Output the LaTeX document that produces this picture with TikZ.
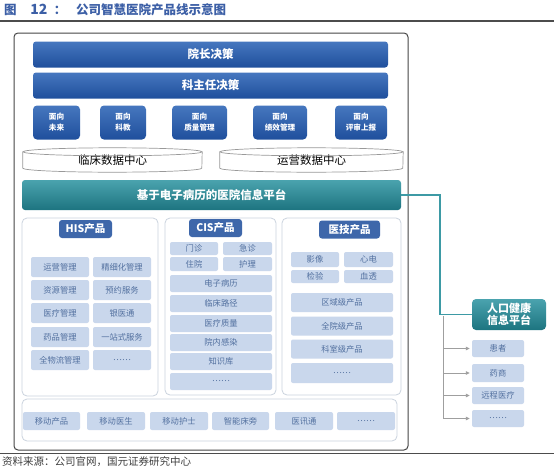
\documentclass[tikz,border=0pt]{standalone}
\usepackage{fontspec}
\setmainfont{Noto Sans CJK SC}
\usetikzlibrary{arrows.meta}
\definecolor{tblue}{HTML}{3C5FA6}
\definecolor{bartop}{HTML}{4677BF}
\definecolor{barbot}{HTML}{1F4F9C}
\definecolor{tealtop}{HTML}{4AA3AE}
\definecolor{tealbot}{HTML}{1D7480}
\definecolor{tealline}{HTML}{3D9AA5}
\definecolor{itemfill}{HTML}{C9D7EC}
\definecolor{itemtext}{HTML}{52709F}
\definecolor{panelline}{HTML}{CBD3DE}
\definecolor{headfill}{HTML}{3E67AA}
\tikzset{
 bar/.style={rounded corners=3pt,top color=bartop,bottom color=barbot,draw=none,
   text=white,font=\fontsize{11.5}{13}\selectfont\bfseries,inner sep=0pt},
 facebox/.style={bar,rounded corners=4pt,align=center,minimum width=50pt,minimum height=34pt,
   font=\fontsize{7.6}{11}\selectfont\bfseries},
 disk/.style={fill=white,inner sep=0pt,minimum height=24pt,font=\fontsize{11.5}{13}\selectfont},
 diskline/.style={draw=gray!80,line width=0.7pt},
 platform/.style={rounded corners=3pt,top color=tealtop,bottom color=tealbot,draw=none,
   text=white,font=\fontsize{11.5}{13}\selectfont\bfseries,inner sep=0pt},
 panel/.style={draw=panelline,line width=0.8pt,rounded corners=5pt,fill=white,inner sep=0pt},
 head/.style={fill=headfill,rounded corners=3pt,text=white,inner sep=0pt,
   minimum height=18pt,font=\fontsize{10.5}{12}\selectfont\bfseries},
 item/.style={fill=itemfill,rounded corners=2pt,text=itemtext,inner sep=0pt,
   font=\fontsize{8.3}{9}\selectfont},
 link/.style={draw=tealline,line width=1.1pt},
 graylink/.style={-{Triangle[length=4pt,width=3.5pt]},draw=gray!75,line width=0.9pt}
}
\begin{document}
\begin{tikzpicture}[x=1pt,y=-1pt]
 \useasboundingbox[fill=white] (0,0) rectangle (554,471);
 % heading and rules
 \node[anchor=west,text=tblue,font=\fontsize{12.5}{14}\selectfont\bfseries,inner sep=0pt]
   (title) at (4,10) {图\hspace{1.1em}{\fontsize{14}{14}\selectfont 12}\hspace{0.5em}：\hspace{0.8em}公司智慧医院产品线示意图};
 \draw[gray!60!black,line width=1.6pt] (0,21) -- (554,21);
 \draw[gray!60!black,line width=0.8pt] (0,453) -- (554,453);
 \node[anchor=west,text=black!75,font=\fontsize{10.5}{12}\selectfont,inner sep=0pt]
   (source) at (2,462) {资料来源：公司官网，国元证券研究中心};
 % outer frame
 \node[draw=gray!55!black,line width=1pt,rounded corners=4pt,minimum width=394pt,
   minimum height=417pt,inner sep=0pt] (frame) at (211,241.5) {};
 % decision bars
 \node[bar,minimum width=355pt,minimum height=26pt] (dean) at (210.5,54.5) {院长决策};
 \node[bar,minimum width=355pt,minimum height=26pt] (director) at (210.5,85.5) {科主任决策};
 \node[facebox,minimum width=47pt] (future) at (56.5,122.5) {面向\\未来};
 \node[facebox,minimum width=46pt] (research) at (123,122.5) {面向\\科教};
 \node[facebox,minimum width=55pt] (quality) at (199.5,122.5) {面向\\质量管理};
 \node[facebox,minimum width=54pt] (perform) at (280,122.5) {面向\\绩效管理};
 \node[facebox,minimum width=52pt] (report) at (361,122.5) {面向\\评审上报};
 % data centres
 \node[disk,minimum width=179pt] (clinical) at (112.5,160) {临床数据中心};
 \node[disk,minimum width=183pt] (operation) at (311.5,160) {运营数据中心};
 \foreach \d/\r in {clinical/89.5pt,operation/91.5pt}{
   \draw[diskline] ([yshift=-4pt]\d.north west) -- ([yshift=4pt]\d.south west)
     arc[start angle=180,end angle=360,x radius=\r,y radius=4pt] -- ([yshift=-4pt]\d.north east);
   \draw[diskline] ([yshift=-4pt]\d.north) ellipse[x radius=\r,y radius=4pt];
 }
 % information platform
 \node[platform,minimum width=379pt,minimum height=30pt] (platform) at (211.5,195) {基于电子病历的医院信息平台};
 % product panels
 \node[panel,minimum width=136pt,minimum height=178pt] (hispanel) at (90,307) {};
 \node[panel,minimum width=111pt,minimum height=177pt] (cispanel) at (220.5,306.5) {};
 \node[panel,minimum width=119pt,minimum height=177pt] (techpanel) at (341.5,306.5) {};
 \node[panel,minimum width=375pt,minimum height=42pt] (mobilepanel) at (209.5,420) {};
 \node[head,minimum width=53pt] (hishead) at (85.5,229) {HIS产品};
 \node[head,minimum width=53pt] (cishead) at (215.5,228) {CIS产品};
 \node[head,minimum width=61pt] (techhead) at (349.5,229.5) {医技产品};
 % HIS items
 \node[item,minimum width=58pt,minimum height=20pt] (his1) at (60,267) {运营管理};
 \node[item,minimum width=58pt,minimum height=20pt] (his2) at (60,290) {资源管理};
 \node[item,minimum width=58pt,minimum height=20pt] (his3) at (60,313) {医疗管理};
 \node[item,minimum width=58pt,minimum height=20pt] (his4) at (60,337) {药品管理};
 \node[item,minimum width=58pt,minimum height=20pt] (his5) at (60,360) {全物流管理};
 \node[item,minimum width=58pt,minimum height=20pt] (his6) at (122,267) {精细化管理};
 \node[item,minimum width=58pt,minimum height=20pt] (his7) at (122,290) {预约服务};
 \node[item,minimum width=58pt,minimum height=20pt] (his8) at (122,313) {银医通};
 \node[item,minimum width=58pt,minimum height=20pt] (his9) at (122,337) {一站式服务};
 \node[item,minimum width=58pt,minimum height=20pt] (his10) at (122,360) {……};
 % CIS items
 \node[item,minimum width=48pt,minimum height=13pt] (cis1) at (194,248.5) {门诊};
 \node[item,minimum width=49pt,minimum height=13pt] (cis2) at (247.5,248.5) {急诊};
 \node[item,minimum width=48pt,minimum height=14pt] (cis3) at (194,264) {住院};
 \node[item,minimum width=49pt,minimum height=14pt] (cis4) at (247.5,264) {护理};
 \node[item,minimum width=102pt,minimum height=17pt] (cis5) at (221,283.5) {电子病历};
 \node[item,minimum width=102pt,minimum height=17pt] (cis6) at (221,303.5) {临床路径};
 \node[item,minimum width=102pt,minimum height=17pt] (cis7) at (221,323.5) {医疗质量};
 \node[item,minimum width=102pt,minimum height=17pt] (cis8) at (221,342.5) {院内感染};
 \node[item,minimum width=102pt,minimum height=17pt] (cis9) at (221,361.5) {知识库};
 \node[item,minimum width=102pt,minimum height=17pt] (cis10) at (221,381.5) {……};
 % technical items
 \node[item,minimum width=48pt,minimum height=15pt] (tech1) at (315,259.5) {影像};
 \node[item,minimum width=49pt,minimum height=15pt] (tech2) at (368.5,259.5) {心电};
 \node[item,minimum width=48pt,minimum height=13pt] (tech3) at (315,276.5) {检验};
 \node[item,minimum width=49pt,minimum height=13pt] (tech4) at (368.5,276.5) {血透};
 \node[item,minimum width=102pt,minimum height=19pt] (tech5) at (342,302.5) {区域级产品};
 \node[item,minimum width=102pt,minimum height=19pt] (tech6) at (342,326) {全院级产品};
 \node[item,minimum width=102pt,minimum height=19pt] (tech7) at (342,349) {科室级产品};
 \node[item,minimum width=102pt,minimum height=20pt] (tech8) at (342,373) {……};
 % mobile items
 \node[item,minimum width=57pt,minimum height=18pt] (mob1) at (51.5,421) {移动产品};
 \node[item,minimum width=58pt,minimum height=18pt] (mob2) at (116,421) {移动医生};
 \node[item,minimum width=58pt,minimum height=18pt] (mob3) at (179,421) {移动护士};
 \node[item,minimum width=57pt,minimum height=18pt] (mob4) at (240.5,421) {智能床旁};
 \node[item,minimum width=58pt,minimum height=18pt] (mob5) at (304,421) {医讯通};
 \node[item,minimum width=58pt,minimum height=18pt] (mob6) at (366,421) {……};
 % population health platform
 \node[platform,rounded corners=4pt,align=center,minimum width=74pt,minimum height=31pt,
   font=\fontsize{11}{12.5}\selectfont\bfseries] (health) at (509,314.5) {人口健康\\信息平台};
 \node[item,minimum width=52pt,minimum height=17pt] (patient) at (498,348.5) {患者};
 \node[item,minimum width=52pt,minimum height=18pt] (pharma) at (498,373) {药商};
 \node[item,minimum width=52pt,minimum height=17pt] (remote) at (498,395.5) {远程医疗};
 \node[item,minimum width=52pt,minimum height=17pt] (more) at (498,418.5) {……};
 \coordinate (trunk) at (440,314.5);
 \coordinate (stem) at (443,316);
 \draw[link] (platform.east) -| (trunk) -- (health.west);
 \foreach \n in {patient,pharma,remote,more}
   \draw[graylink] (stem) |- ([xshift=-2pt]\n.west);
\end{tikzpicture}
\end{document}
